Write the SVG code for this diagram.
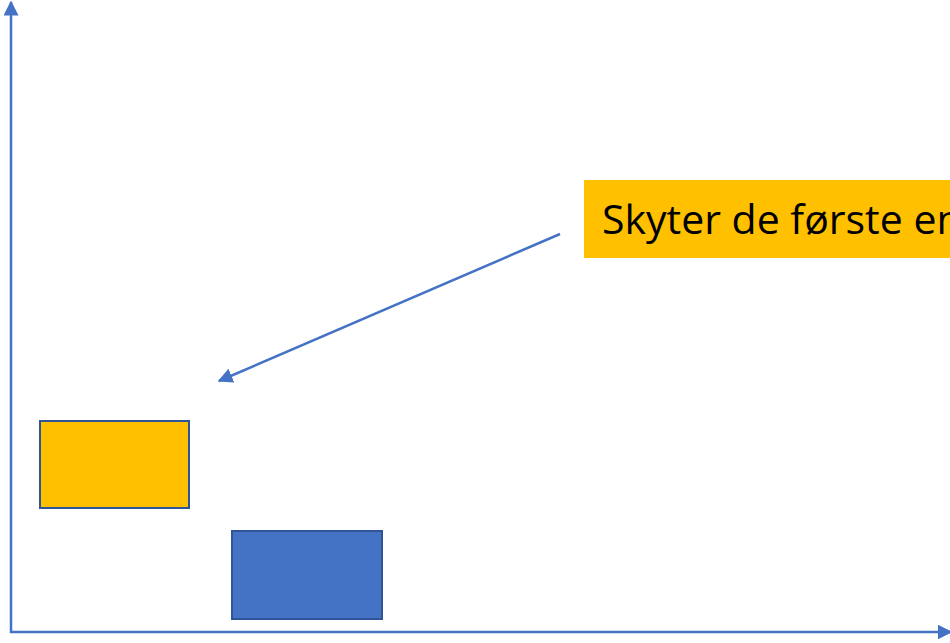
<svg xmlns="http://www.w3.org/2000/svg" width="950" height="643" viewBox="0 0 950 643">
<style>
.ax{stroke:#4472C4;stroke-width:2.5;fill:none}
.box{stroke:#2F5597;stroke-width:2}
.lbl{font-family:"Open Sans","Liberation Sans",sans-serif;font-size:41px;fill:#000}
</style>
<defs>
<marker id="ah" viewBox="0 0 10 10" refX="9" refY="5" markerWidth="6" markerHeight="6" markerUnits="strokeWidth" orient="auto">
<path d="M0,0 L10,5 L0,10 z" fill="#4472C4"/>
</marker>
</defs>
<rect width="950" height="643" fill="#fff"/>
<g id="connectors">
<line class="ax" x1="11" y1="633" x2="11" y2="2" marker-end="url(#ah)"/>
<line class="ax" x1="10" y1="632" x2="951" y2="632" marker-end="url(#ah)"/>
<line class="ax" x1="560" y1="234" x2="219" y2="381" marker-end="url(#ah)"/>
</g>
<g id="label">
<rect x="584" y="180" width="370" height="78" fill="#FFC000"/>
<text class="lbl" x="602" y="234">Skyter de første en</text>
</g>
<g id="yellow-box">
<rect class="box" x="40" y="421" width="149" height="87" fill="#FFC000"/>
</g>
<g id="blue-box">
<rect class="box" x="232" y="531" width="150" height="88" fill="#4472C4"/>
</g>
</svg>
